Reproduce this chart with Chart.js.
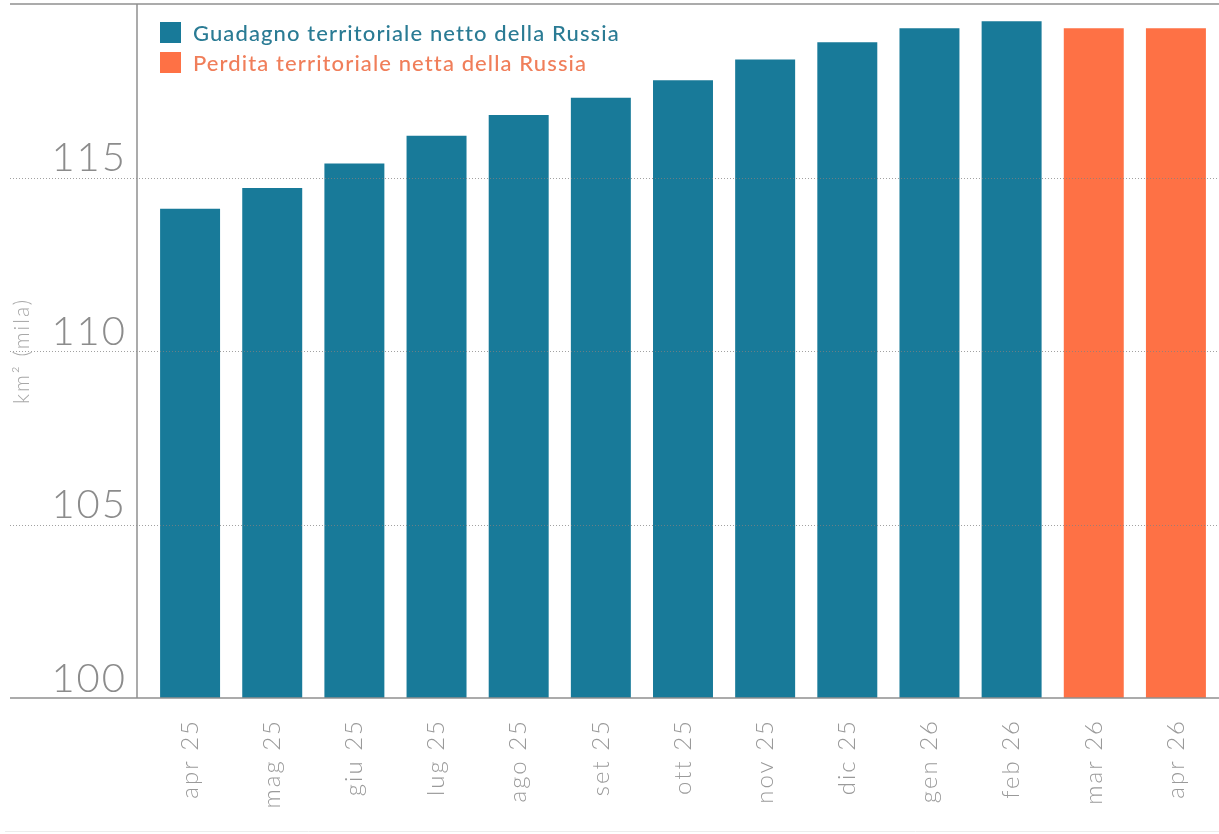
<!DOCTYPE html>
<html lang="it">
<head>
<meta charset="utf-8">
<title>Territorio controllato dalla Russia</title>
<script src="https://cdn.jsdelivr.net/npm/chart.js@4"></script>
<style>
  html, body { margin:0; padding:0; background:#fff; }
  #wrap { position:relative; width:1219px; height:834px; }
  .legend { position:absolute; left:160px; top:17px; font-family:Lato, "Open Sans", sans-serif; font-size:22px; font-weight:500; letter-spacing:1.1px; }
  .legend div { display:flex; align-items:center; height:30px; }
  .legend span.sw { display:inline-block; width:21px; height:21px; margin-right:12px; }
</style>
</head>
<body>
<div id="wrap">
  <canvas id="chart"></canvas>
  <div class="legend">
    <div style="color:#2a7b94"><span class="sw" style="background:#187a99"></span>Guadagno territoriale netto della Russia</div>
    <div style="color:#f07e5a"><span class="sw" style="background:#fe7145"></span>Perdita territoriale netta della Russia</div>
  </div>
</div>
<script>
// ── data (migliaia di km²) ─────────────────────────────────────────────
const months = ["apr 25","mag 25","giu 25","lug 25","ago 25","set 25","ott 25","nov 25","dic 25","gen 26","feb 26","mar 26","apr 26"];
const gain   = [114.1, 114.7, 115.4, 116.2, 116.8, 117.3, 117.8, 118.4, 118.9, 119.3, 119.5, null, null];
const loss   = [null, null, null, null, null, null, null, null, null, null, null, 119.3, 119.3];
const yTicks = [100, 105, 110, 115];

const TEAL = "#187a99", ORANGE = "#fe7145";
const GREY = "#8f8f8f";

Chart.defaults.font.family = "Lato, 'Open Sans', sans-serif";

// frame + dotted grid, extended to the left edge like the original
const frame = {
  id: "frame",
  beforeDraw(chart){ chart.ctx.letterSpacing = "2px"; },
  afterDatasetsDraw(chart){
    const { ctx, chartArea:a, scales:{ y } } = chart;
    ctx.save();
    ctx.letterSpacing = "0px";
    ctx.strokeStyle = "rgba(130,130,130,0.75)";
    ctx.lineWidth = 1;
    ctx.setLineDash([1, 2]);
    y.ticks.forEach(t => {
      if (t.value === y.min) return;
      const py = Math.round(y.getPixelForValue(t.value)) + 0.5;
      ctx.beginPath(); ctx.moveTo(10, py); ctx.lineTo(chart.width, py); ctx.stroke();
    });
    ctx.setLineDash([]);
    ctx.strokeStyle = GREY; ctx.lineWidth = 1.5;
    const bot = y.getPixelForValue(y.min), top = y.getPixelForValue(y.max);
    ctx.beginPath(); ctx.moveTo(10, bot); ctx.lineTo(chart.width, bot); ctx.stroke();
    ctx.beginPath(); ctx.moveTo(10, top); ctx.lineTo(chart.width, top); ctx.stroke();
    ctx.beginPath(); ctx.moveTo(a.left - 12, top); ctx.lineTo(a.left - 12, bot); ctx.stroke();
    ctx.strokeStyle = "#ececec"; ctx.lineWidth = 1;
    ctx.beginPath(); ctx.moveTo(5, chart.height - 2.5); ctx.lineTo(chart.width, chart.height - 2.5); ctx.stroke();
    ctx.restore();
  }
};

new Chart(document.getElementById("chart"), {
  type: "bar",
  data: {
    labels: months,
    datasets: [
      { label:"Guadagno territoriale netto della Russia", data:gain, backgroundColor:TEAL },
      { label:"Perdita territoriale netta della Russia", data:loss, backgroundColor:ORANGE },
    ],
  },
  options: {
    responsive:true, maintainAspectRatio:false, animation:false,
    layout:{ padding:{ top:4, right:2, left:0, bottom:0 } },
    datasets:{ bar:{ barPercentage:0.73, categoryPercentage:1, base:100 } },
    plugins:{ legend:{ display:false }, tooltip:{ enabled:false } },
    scales:{
      x:{
        stacked:true,
        grid:{ display:false, drawTicks:false },
        border:{ display:false },
        ticks:{ minRotation:90, maxRotation:90, padding:21, color:"#9a9a9a",
          font:{ size:24, weight:300 } },
        afterFit(s){ s.height = 136; s.paddingLeft = 0; s.paddingRight = 0; },
      },
      y:{
        min:100, max:120,
        grid:{ display:false, drawTicks:false },
        border:{ display:false },
        afterBuildTicks(s){ s.ticks = yTicks.map(v => ({ value:v })); },
        ticks:{ padding:22, labelOffset:-19, color:"#8c8c8c", font:{ size:40, weight:300 } },
        title:{ display:true, text:"km² (mila)", color:"#a8a8a8", font:{ size:21, weight:300 }, padding:{ top:10, bottom:0 } },
        afterFit(s){ s.width = 149; s.paddingTop = 0; s.paddingBottom = 0; },
      },
    },
  },
  plugins:[frame],
});
</script>
</body>
</html>
